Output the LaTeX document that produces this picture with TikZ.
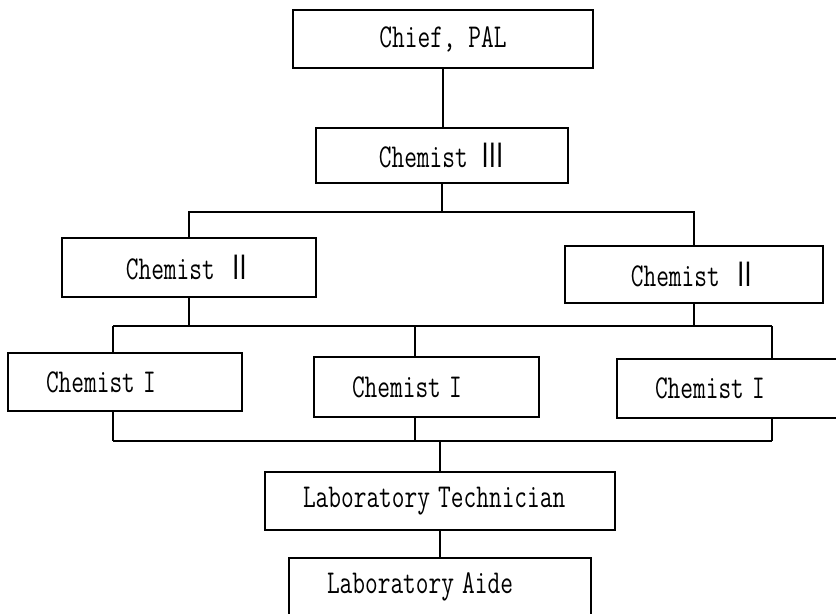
\documentclass[tikz,border=0pt]{standalone}
\usepackage{graphicx}
\usepackage{fontspec}
\newfontfamily\cjk{Noto Sans CJK JP}
\newcommand{\lbl}[1]{\scalebox{0.74}[1]{#1}}
\begin{document}
\begin{tikzpicture}[x=0.75pt,y=-0.75pt,line width=1.1pt,
  box/.style={draw,font=\ttfamily\fontsize{25}{28}\selectfont,inner sep=0pt},
  lbox/.style={box,inner xsep=28.5pt,text width=#1,align=left}]
\useasboundingbox[fill=white] (0,0) rectangle (836,614);
\node[box,minimum width=225pt,minimum height=43.5pt] (chief) at (443,39) {\lbl{Chief, PAL}};
\node[box,minimum width=189pt,minimum height=41.25pt] (chem3) at (442,155.5) {\lbl{Chemist {\cjk Ⅲ}}};
\node[box,minimum width=190.5pt,minimum height=44.25pt] (chem2a) at (189,267.5) {\lbl{Chemist {\cjk Ⅱ}}};
\node[box,minimum width=193.5pt,minimum height=42.75pt] (chem2b) at (694,274.5) {\lbl{Chemist {\cjk Ⅱ}}};
\node[lbox=118.5pt,minimum height=43.5pt] (chem1a) at (125,382) {\lbl{Chemist I}};
\node[lbox=111.75pt,minimum height=45pt] (chem1b) at (426.5,387) {\lbl{Chemist I}};
\node[lbox=114pt,minimum height=44.25pt] (chem1c) at (731,388.5) {\lbl{Chemist I}};
\node[lbox=205.5pt,minimum height=43.5pt] (labtech) at (440,501) {\lbl{Laboratory Technician}};
\node[lbox=169.5pt,minimum height=43.5pt] (aide) at (440,587) {\lbl{Laboratory Aide}};
\coordinate (bus1) at (442,212);
\coordinate (bus2) at (442,326);
\coordinate (bus3) at (442,441);
\draw (chief.south) -- (chief.south |- chem3.north);
\draw (chem3.south) -- (bus1);
\draw (chem2a.north) |- (bus1) -| (chem2b.north);
\draw (chem2a.south) -- (chem2a.south |- bus2);
\draw (chem2b.south) -- (chem2b.south |- bus2);
\draw (113,326) -- (772,326);
\draw (113,441) -- (772,441);
\foreach \n/\x in {chem1a/113,chem1b/415,chem1c/772} {
  \draw (\n.north -| \x,0) -- (\x,326);
  \draw (\n.south -| \x,0) -- (\x,441);
}
\draw (labtech.north) -- (labtech.north |- bus3);
\draw (labtech.south) -- (labtech.south |- aide.north);
\end{tikzpicture}
\end{document}
